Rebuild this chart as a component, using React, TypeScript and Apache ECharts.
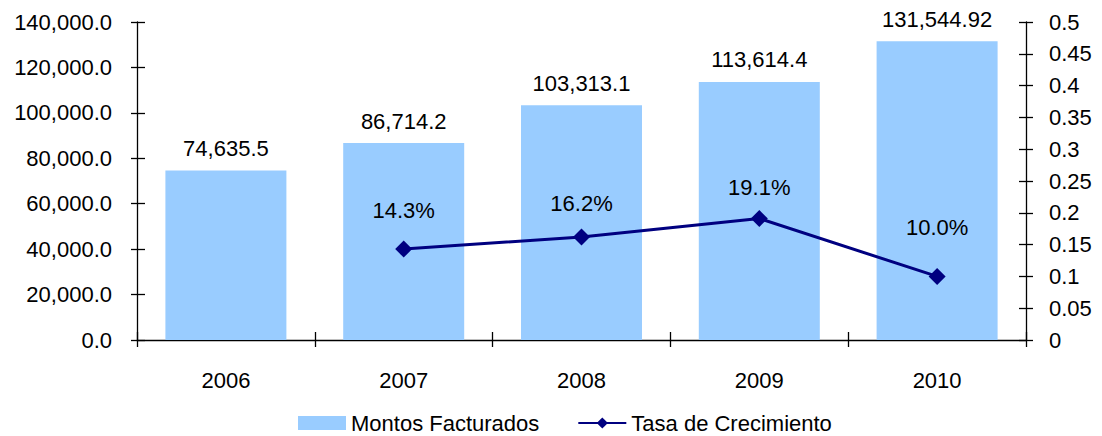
import React, { useEffect, useRef } from "react";
import * as echarts from "echarts";

const categories = ["2006", "2007", "2008", "2009", "2010"];
const montos = [74635.5, 86714.2, 103313.1, 113614.4, 131544.92];
const tasa: (number | null)[] = [null, 0.143, 0.162, 0.191, 0.1];
const tasaLabelLift = [0, 19, 14, 12, 29];

const FONT = "'Liberation Sans', Arial, sans-serif";
const FS = 22;

export default function App() {
  const ref = useRef<HTMLDivElement>(null);
  useEffect(() => {
    if (!ref.current) return;
    const chart = echarts.init(ref.current, null, { renderer: "svg" });
    const grid = { left: 137, right: 76, top: 22, bottom: 96 };
    const axisLine = { show: true, lineStyle: { color: "#000", width: 1.3 } };
    chart.setOption({
      animation: false,
      textStyle: { fontFamily: FONT, fontSize: FS, color: "#000" },
      grid,
      legend: {
        left: 293,
        top: 407,
        itemWidth: 48,
        itemHeight: 14,
        itemGap: 38,
        textStyle: { fontFamily: FONT, fontSize: FS, color: "#000" },
        data: [
          { name: "Montos Facturados", icon: "rect" },
          { name: "Tasa de Crecimiento" },
        ],
      },
      xAxis: [
        {
          type: "category",
          data: categories,
          axisLine,
          axisTick: { show: true, length: 7, lineStyle: { color: "#000", width: 1.3 } },
          axisLabel: { fontFamily: FONT, fontSize: FS, color: "#000", margin: 29 },
        },
        {
          type: "category",
          data: categories,
          position: "bottom",
          axisLine: { show: false },
          axisTick: { show: true, inside: true, length: 8, lineStyle: { color: "#000", width: 1.3 } },
          axisLabel: { show: false },
        },
      ],
      yAxis: [
        {
          type: "value",
          min: 0,
          max: 140000,
          interval: 20000,
          axisLine,
          axisTick: { show: true, length: 6, lineStyle: { color: "#000", width: 1.3 } },
          splitLine: { show: false },
          axisLabel: {
            fontFamily: FONT,
            fontSize: FS,
            color: "#000",
            margin: 25,
            formatter: (v: number) =>
              v.toLocaleString("en-US", { minimumFractionDigits: 1, maximumFractionDigits: 1 }),
          },
        },
        {
          type: "value",
          position: "right",
          min: 0,
          max: 0.5,
          interval: 0.05,
          axisLine,
          axisTick: { show: true, length: 7, lineStyle: { color: "#000", width: 1.3 } },
          splitLine: { show: false },
          axisLabel: {
            fontFamily: FONT,
            fontSize: FS,
            color: "#000",
            margin: 23,
            formatter: (v: number) => String(parseFloat(v.toFixed(2))),
          },
        },
        {
          type: "value",
          position: "left",
          min: 0,
          max: 140000,
          interval: 20000,
          axisLine: { show: false },
          axisTick: { show: true, inside: true, length: 8, lineStyle: { color: "#000", width: 1.3 } },
          axisLabel: { show: false },
          splitLine: { show: false },
        },
        {
          type: "value",
          position: "right",
          min: 0,
          max: 0.5,
          interval: 0.05,
          axisLine: { show: false },
          axisTick: { show: true, inside: true, length: 7, lineStyle: { color: "#000", width: 1.3 } },
          axisLabel: { show: false },
          splitLine: { show: false },
        },
      ],
      series: [
        {
          name: "Montos Facturados",
          type: "bar",
          xAxisIndex: 0,
          yAxisIndex: 0,
          data: montos,
          barWidth: 121,
          itemStyle: { color: "#99CCFF" },
          label: {
            show: true,
            position: "top",
            distance: 11,
            fontFamily: FONT,
            fontSize: FS,
            color: "#000",
            formatter: (p: any) =>
              Number(p.value).toLocaleString("en-US", { maximumFractionDigits: 2 }),
          },
        },
        {
          name: "Tasa de Crecimiento",
          type: "line",
          xAxisIndex: 0,
          yAxisIndex: 1,
          data: tasa.map((v, i) => ({
            value: v,
            label: { distance: tasaLabelLift[i] },
          })),
          symbol: "diamond",
          symbolSize: 17,
          lineStyle: { color: "#000080", width: 3 },
          itemStyle: { color: "#000080" },
          label: {
            show: true,
            position: "top",
            fontFamily: FONT,
            fontSize: FS,
            color: "#000",
            formatter: (p: any) => (p.value == null ? "" : (p.value * 100).toFixed(1) + "%"),
          },
        },
      ],
    });
    return () => chart.dispose();
  }, []);
  return (
    <div
      ref={ref}
      style={{ position: "absolute", left: 0, top: 0, width: 1102, height: 436, background: "#fff" }}
    />
  );
}
